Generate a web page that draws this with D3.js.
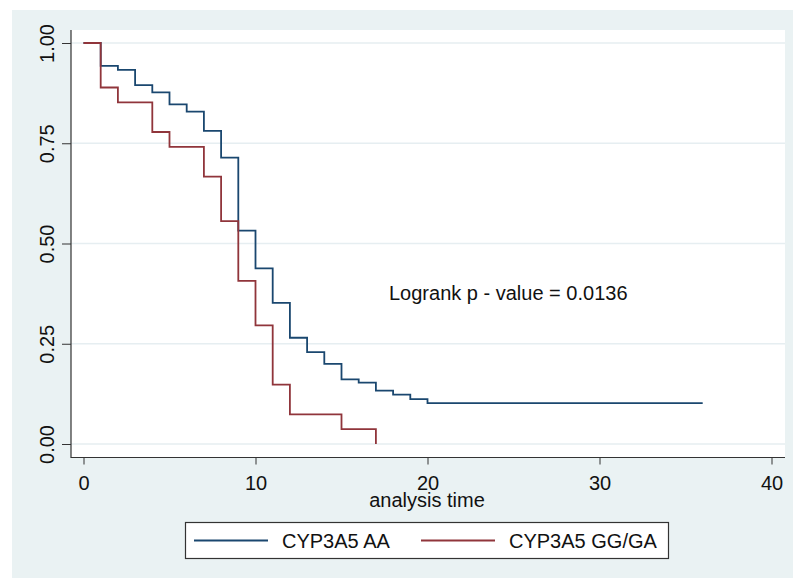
<!DOCTYPE html>
<html>
<head>
<meta charset="utf-8">
<script src="https://cdn.jsdelivr.net/npm/d3@7"></script>
<style>
  body { margin: 0; background: #fff; }
  svg { display: block; font-family: "Liberation Sans", Arial, sans-serif; }
</style>
</head>
<body>
<div id="chart"></div>
<script>
// Kaplan-Meier estimates
const aaTimes = [0, 1, 2, 3, 4, 5, 6, 7, 8, 9, 10, 11, 12, 13, 14, 15, 16, 17, 18, 19, 20, 36];
const aaSurv = [1, 0.943, 0.933, 0.895, 0.877, 0.847, 0.829, 0.781, 0.714, 0.532, 0.438, 0.352,
    0.265, 0.229, 0.2, 0.161, 0.153, 0.133, 0.123, 0.112, 0.102, 0.102];
const ggTimes = [0, 1, 2, 4, 5, 7, 8, 9, 10, 11, 12, 15, 17];
const ggSurv = [1, 0.889, 0.852, 0.778, 0.741, 0.667, 0.556, 0.407, 0.296, 0.148, 0.074, 0.037, 0];

const seriesNames = ['CYP3A5 AA', 'CYP3A5 GG/GA'];
const seriesColors = ['#1a476f', '#90353b'];
const xTicks = [0, 10, 20, 30, 40];
const yTicks = [0, 0.25, 0.5, 0.75, 1];
const annotation = 'Logrank p - value = 0.0136';

const width = 793, height = 580;
const plot = { left: 71, top: 30, right: 785, bottom: 457.5 };

const svg = d3.select('#chart').append('svg')
    .attr('width', width)
    .attr('height', height);

// graph region + plot region
svg.append('rect').attr('x', 12).attr('y', 10).attr('width', width - 12).attr('height', 568)
    .attr('fill', '#eaf2f3');
svg.append('rect').attr('x', plot.left).attr('y', plot.top)
    .attr('width', plot.right - plot.left).attr('height', plot.bottom - plot.top)
    .attr('fill', '#fff');

const x = d3.scaleLinear().domain([0, 40]).range([83.5, 771.5]);
const y = d3.scaleLinear().domain([0, 1]).range([444, 43]);

// gridlines
svg.append('g').selectAll('line')
    .data(yTicks)
    .join('line')
    .attr('x1', plot.left).attr('x2', plot.right)
    .attr('y1', d => y(d)).attr('y2', d => y(d))
    .attr('stroke', '#e6eef1')
    .attr('stroke-width', 1.3);

// axes
const yAxis = svg.append('g')
    .attr('transform', `translate(${plot.left},0)`)
    .call(d3.axisLeft(y).tickValues(yTicks).tickSize(9).tickFormat(d3.format('.2f')));
yAxis.select('.domain').remove();
yAxis.selectAll('.tick line').attr('stroke', '#333');
yAxis.selectAll('.tick text')
    .attr('x', 0).attr('dy', 0)
    .attr('transform', 'translate(-17.5,0) rotate(-90)')
    .attr('text-anchor', 'middle')
    .attr('fill', '#111')
    .style('font-size', '20px');

const xAxis = svg.append('g')
    .attr('transform', `translate(0,${plot.bottom})`)
    .call(d3.axisBottom(x).tickValues(xTicks).tickSize(7));
xAxis.select('.domain').remove();
xAxis.selectAll('.tick line').attr('stroke', '#333');
xAxis.selectAll('.tick text')
    .attr('y', 32).attr('dy', 0)
    .attr('fill', '#111')
    .style('font-size', '20px');

svg.append('path')
    .attr('d', `M${plot.left},${plot.top}V${plot.bottom}H${plot.right}`)
    .attr('fill', 'none')
    .attr('stroke', '#333')
    .attr('stroke-width', 1.2);

svg.append('text')
    .attr('x', (x(0) + x(40)) / 2 - 0.5)
    .attr('y', 506.5)
    .attr('text-anchor', 'middle')
    .attr('fill', '#111')
    .style('font-size', '20px')
    .text('analysis time');

// survival curves
const line = d3.line()
    .x(d => x(d[0]))
    .y(d => y(d[1]))
    .curve(d3.curveStepAfter);

const curves = [
    d3.zip(aaTimes, aaSurv),
    d3.zip(ggTimes, ggSurv)
];

svg.append('g').selectAll('path')
    .data(curves)
    .join('path')
    .attr('d', line)
    .attr('fill', 'none')
    .attr('stroke', (d, i) => seriesColors[i])
    .attr('stroke-width', 1.8);

svg.append('text')
    .attr('x', 389)
    .attr('y', 299.5)
    .attr('fill', '#111')
    .style('font-size', '20px')
    .text(annotation);

// legend
const legend = svg.append('g');
legend.append('rect')
    .attr('x', 185.5).attr('y', 522.5).attr('width', 483).attr('height', 36)
    .attr('fill', '#fff')
    .attr('stroke', '#333')
    .attr('stroke-width', 1.2);

const legendItems = legend.selectAll('g')
    .data(seriesNames)
    .join('g')
    .attr('transform', (d, i) => `translate(${i === 0 ? 194 : 421},540.5)`);
legendItems.append('line')
    .attr('x1', 0).attr('x2', 74)
    .attr('stroke', (d, i) => seriesColors[i])
    .attr('stroke-width', 1.8);
legendItems.append('text')
    .attr('x', 88)
    .attr('y', 7.5)
    .attr('fill', '#111')
    .style('font-size', '20px')
    .text(d => d);
</script>
</body>
</html>
